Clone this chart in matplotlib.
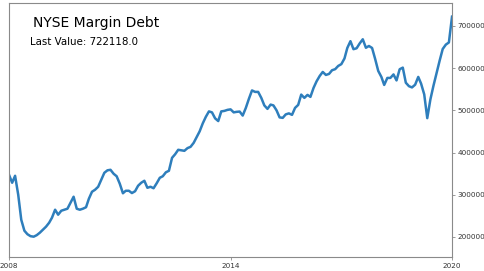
import matplotlib
matplotlib.use("Agg")
import matplotlib.pyplot as plt
import matplotlib.dates as mdates
import numpy as np
import pandas as pd

# monthly NYSE margin debt, Jan 2008 .. Jan 2020
start = "2008-01-01"
debt = [
    347400, 328500, 345000, 300100, 240900, 214900, 206600, 201900, 200700, 204300,
    210200, 217300, 224400, 233800, 245700, 264600, 252800, 262200, 264600, 267000,
    281200, 295400, 267000, 264600, 267000, 270500, 290600, 307200, 311900, 319000,
    335600, 352100, 358000, 359200, 349800, 343900, 326100, 303600, 309500, 309500,
    304100, 308400, 321400, 328500, 333200, 316600, 319000, 315500, 327300, 340300,
    343900, 353300, 356900, 387600, 395900, 406600, 405400, 404200, 410600, 413600,
    423100, 437300, 450300, 469300, 484600, 497600, 495300, 481100, 474700, 497600,
    498800, 501200, 502400, 495300, 496500, 497200, 487700, 505900, 527200, 547300,
    543800, 543800, 529600, 511800, 503600, 513700, 511800, 500000, 483400, 482300,
    490500, 492900, 489400, 505900, 513000, 537400, 529600, 536700, 532000, 553200,
    568900, 581600, 591100, 584000, 586400, 595100, 597700, 605300, 609600, 623000,
    647900, 664000, 645000, 647200, 658500, 668500, 648400, 652600, 647900, 622300,
    593500, 579300, 560300, 576900, 576900, 585200, 571000, 597500, 601300, 565500,
    557300, 554400, 560800, 579300, 563400, 537900, 481600, 526000, 558000, 588700,
    618300, 645500, 655900, 660900, 722118,
]
dates = pd.date_range(start, periods=len(debt), freq="MS")
s = pd.Series(debt, index=dates)

fig = plt.figure(figsize=(4.85, 2.71), dpi=100)
ax = fig.add_axes([0.0186, 0.0517, 0.9134, 0.9373])

ax.plot(s.index, s.values, color="#2e7ebc", lw=1.8)

ax.set_xlim(s.index[0], s.index[-1])
ax.set_ylim(152600, 754500)

ax.yaxis.tick_right()
ax.set_yticks([200000, 300000, 400000, 500000, 600000, 700000])
ax.yaxis.set_major_formatter(matplotlib.ticker.FuncFormatter(lambda v, p: "%d" % v))
ax.set_xticks([pd.Timestamp("2008-01-01"), pd.Timestamp("2014-01-01"), pd.Timestamp("2020-01-01")])
ax.xaxis.set_major_formatter(mdates.DateFormatter("%Y"))

for sp in ax.spines.values():
    sp.set_color("#8a8a8a")
    sp.set_linewidth(0.8)
ax.tick_params(labelsize=5.2, colors="#333333", length=2.5, width=0.6, pad=1.5)
ax.tick_params(color="#8a8a8a")

ax.text(0.054, 0.905, "NYSE Margin Debt", transform=ax.transAxes, fontsize=10)
ax.text(0.047, 0.836, "Last Value: %.1f" % s.values[-1], transform=ax.transAxes, fontsize=7.4)

fig.savefig("out.png", dpi=100)
